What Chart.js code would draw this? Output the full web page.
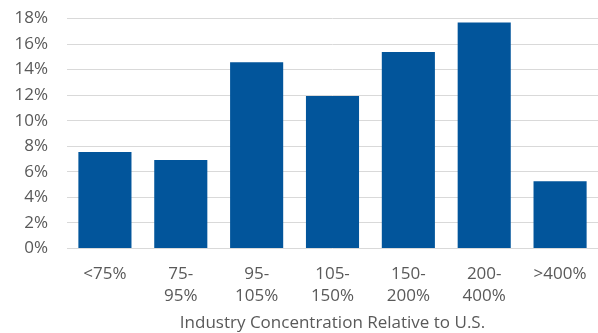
<!DOCTYPE html>
<html>
<head>
<meta charset="utf-8">
<script src="https://cdn.jsdelivr.net/npm/chart.js@4.4.0/dist/chart.umd.min.js"></script>
<style>
  html, body { margin: 0; padding: 0; background: #fff; }
  #wrap { width: 598px; height: 333px; }
</style>
</head>
<body>
<div id="wrap"><canvas id="chart"></canvas></div>
<script>
// --- DATA ---
const categories = [['<75%'], ['75-', '95%'], ['95-', '105%'], ['105-', '150%'], ['150-', '200%'], ['200-', '400%'], ['>400%']];
const shares = [7.55, 6.92, 14.58, 11.93, 15.37, 17.69, 5.27];
const yTicks = [0, 2, 4, 6, 8, 10, 12, 14, 16, 18];
const xTitle = 'Industry Concentration Relative to U.S.';

const textColor = '#595959';
const fontFamily = "'Open Sans', sans-serif";

new Chart(document.getElementById('chart'), {
    type: 'bar',
    data: {
        labels: categories,
        datasets: [{ data: shares, backgroundColor: '#02559B', categoryPercentage: 1, barPercentage: 0.7 }]
    },
    options: {
        responsive: true, maintainAspectRatio: false, animation: false,
        layout: { padding: { top: 18.5, right: 0, left: 0, bottom: 0 } },
        plugins: { legend: { display: false }, tooltip: { enabled: false } },
        scales: {
            x: {
                afterFit: s => { s.height = 84.5; s.paddingLeft = 0; s.paddingRight = 0; },
                grid: { display: false, drawTicks: false },
                border: { display: false },
                ticks: { color: textColor, font: { family: fontFamily, size: 17, lineHeight: 1.3 }, padding: 15, maxRotation: 0, autoSkip: false },
                title: { display: true, text: xTitle, color: textColor, font: { family: fontFamily, size: 17 }, padding: { top: 6, bottom: 0 } }
            },
            y: {
                min: 0, max: 18,
                afterBuildTicks: s => { s.ticks = yTicks.map(v => ({ value: v })); },
                afterFit: s => { s.width = 67; s.paddingTop = 0; s.paddingBottom = 0; },
                grid: { color: '#d9d9d9', lineWidth: 1, drawTicks: false },
                border: { display: false },
                ticks: { color: textColor, font: { family: fontFamily, size: 17 }, padding: 19, autoSkip: false, callback: v => v + '%' }
            }
        }
    }
});
</script>
</body>
</html>
